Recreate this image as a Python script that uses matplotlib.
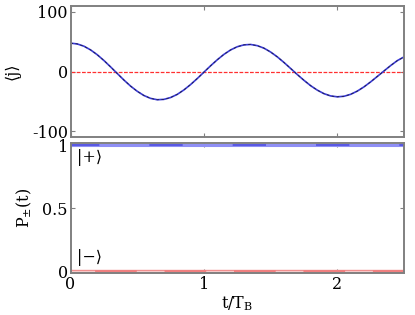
import matplotlib
matplotlib.use("Agg")
import matplotlib.pyplot as plt
import numpy as np

# ---- data ----
t = [0.00, 0.05, 0.10, 0.15, 0.20, 0.25, 0.30, 0.35, 0.40, 0.45,
     0.50, 0.55, 0.60, 0.65, 0.70, 0.75, 0.80, 0.85, 0.90, 0.95,
     1.00, 1.05, 1.10, 1.15, 1.20, 1.25, 1.30, 1.35, 1.40, 1.45,
     1.50, 1.55, 1.60, 1.65, 1.70, 1.75, 1.80, 1.85, 1.90, 1.95,
     2.00, 2.05, 2.10, 2.15, 2.20, 2.25, 2.30, 2.35, 2.40, 2.45, 2.50]
j_mean = [47.6, 46.3, 42.5, 36.3, 28.2, 18.5, 7.8, -3.3, -14.3, -24.5,
          -33.2, -40.3, -45.1, -47.4, -46.8, -43.7, -38.4, -30.9, -21.9, -11.8,
          -1.1, 9.6, 19.7, 28.8, 36.2, 41.6, 44.7, 45.4, 43.4, 39.2,
          32.7, 24.6, 15.2, 5.1, -5.1, -14.8, -23.8, -31.3, -37.2, -41.0,
          -42.5, -41.6, -38.3, -32.9, -25.8, -17.4, -8.3, 0.9, 10.0, 18.3, 24.5]
t_flat = [0.0, 2.5]
j_ref = [0.0, 0.0]
p_plus = [1.0, 1.0]
p_minus = [0.0, 0.0]

xticks = [0, 1, 2]
top_yticks = [-100, 0, 100]
bot_yticks = [0, 0.5, 1]
bot_yticklabels = ["0", "0.5", "1"]

plt.rcParams['font.family'] = ['DejaVu Serif']
plt.rcParams['mathtext.fontset'] = 'dejavuserif'
plt.rcParams['axes.unicode_minus'] = False

FS = 11.5
fig = plt.figure(figsize=(4.15, 3.15), dpi=100)
ax1 = fig.add_axes([0.170, 0.565, 0.8035, 0.416])
ax2 = fig.add_axes([0.170, 0.133, 0.8035, 0.413])

frame_col = '#808080'
for ax in (ax1, ax2):
    for s in ax.spines.values():
        s.set_color(frame_col)
        s.set_linewidth(1.4)
    ax.tick_params(direction='in', top=True, right=True, length=3,
                   color=frame_col, labelsize=FS, pad=2)
    ax.set_xlim(0, 2.5)
    ax.set_xticks(xticks)

# top panel
ax1.plot(t_flat, j_ref, color='#ff3030', lw=0.9, ls=(0, (3, 1.2)))
ax1.plot(t, j_mean, color='#3a3ad8', lw=1.2)
ax1.plot(t, j_mean, color='#202040', lw=0.6, ls=(0, (3, 3)))
ax1.set_ylim(-110, 110)
ax1.set_yticks(top_yticks)
ax1.set_xticklabels([])
ax1.set_ylabel('⟨j⟩', fontsize=FS, labelpad=8)

# bottom panel
ax2.plot(t_flat, p_plus, color='#8f8ff5', lw=2.2, solid_capstyle='butt')
ax2.plot(t_flat, p_plus, color='#5050e0', lw=1.2, ls=(3, (20, 30)))
ax2.plot(t_flat, p_minus, color='#f08080', lw=2.4, solid_capstyle='butt')
ax2.plot(t_flat, p_minus, color='#f6c8c8', lw=1.0, ls=(3, (20, 30)))
ax2.set_ylim(-0.016, 1.016)
ax2.set_yticks(bot_yticks)
ax2.set_yticklabels(bot_yticklabels)
ax2.set_ylabel(r'P$_{\pm}$(t)', fontsize=FS, labelpad=6)
ax2.set_xlabel(r't/T$_{\mathrm{B}}$', fontsize=FS, labelpad=1)
ax2.text(0.02, 0.89, '|+⟩', fontsize=FS, transform=ax2.transAxes,
         ha='left', va='center')
ax2.text(0.02, 0.12, '|−⟩', fontsize=FS, transform=ax2.transAxes,
         ha='left', va='center')

fig.savefig('out.png', dpi=100)
